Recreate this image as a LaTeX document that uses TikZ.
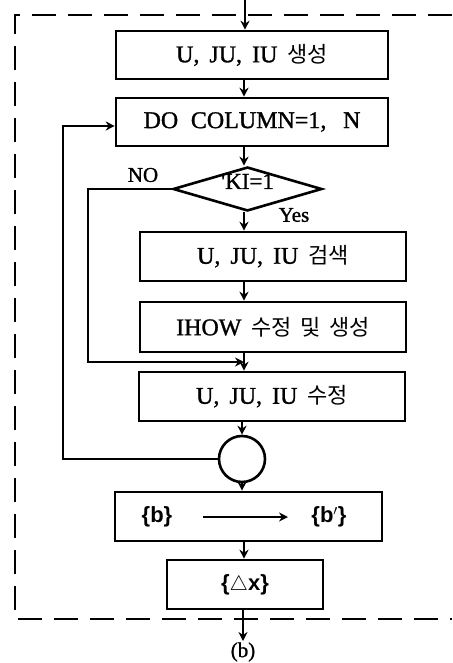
\documentclass[tikz,border=0pt]{standalone}
\usepackage{fontspec}
\setmainfont{Liberation Serif}[FakeBold=1.2]
\newfontfamily\kr{Noto Sans CJK KR}
\newfontfamily\sansf{Liberation Sans}
\usetikzlibrary{shapes.geometric,arrows.meta,calc}
\begin{document}
\begin{tikzpicture}[x=1pt,y=-1pt,
  line width=2.6pt,
  >={Stealth[length=9pt,width=9pt]},
  boxnode/.style={draw,rectangle,inner sep=0pt,font=\fontsize{24}{26}\selectfont},
  krf/.style={},
  lbl/.style={inner sep=0pt,font=\fontsize{21}{23}\selectfont},
  frame/.style={dash pattern=on 24pt off 12pt,line width=2.6pt}]
\useasboundingbox (0,0) rectangle (452,663);
% frame
\draw[frame] (452,15) -- (15,15) -- (15,619) -- (452,619);
% nodes
\node[boxnode,minimum width=272pt,minimum height=48pt] (b1) at (252,55) {U,\, JU,\, IU\, {\kr\fontsize{22}{24}\selectfont 생성}};
\node[boxnode,minimum width=272pt,minimum height=48pt] (b2) at (252,122) {DO\; COLUMN=1,\;\, N};
\node[draw,diamond,aspect=3.4,inner sep=0pt,minimum width=149pt,minimum height=44pt,font=\fontsize{23}{25}\selectfont] (d) at (247.5,189) {\raisebox{0pt}[0pt][0pt]{\textquotesingle KI=1}};
\node[boxnode,minimum width=266pt,minimum height=49pt] (b3) at (273,256.5) {U,\, JU,\, IU\, {\kr\fontsize{22}{24}\selectfont 검색}};
\node[boxnode,minimum width=266pt,minimum height=50pt] (b4) at (273,327) {IHOW\, {\kr\fontsize{22}{24}\selectfont 수정\, 및\, 생성}};
\node[boxnode,minimum width=266pt,minimum height=49pt] (b5) at (272,396.5) {U,\, JU,\, IU\, {\kr\fontsize{22}{24}\selectfont 수정}};
\node[draw,circle,minimum size=46pt,inner sep=0pt] (c) at (242,459) {};
\node[boxnode,minimum width=267pt,minimum height=49pt] (b6) at (248.5,516.5) {};
\node[inner sep=0pt,font=\sansf\bfseries\fontsize{22}{24}\selectfont] (bl) at (157,517) {\{b\}};
\node[inner sep=0pt,font=\sansf\bfseries\fontsize{22}{24}\selectfont] (br) at (329,517) {\{b$'$\}};
\node[boxnode,minimum width=156pt,minimum height=49pt,font=\sansf\bfseries\fontsize{22}{24}\selectfont] (b7) at (245,584.5) {\{$\triangle$x\}};
\node[lbl] (no) at (143,175) {NO};
\node[lbl] (yes) at (294,215) {Yes};
\node[inner sep=0pt,font=\fontsize{21}{23}\selectfont] (bb) at (243,652) {(b)};
% coordinates
\coordinate (top) at (245,0);
\coordinate (spine) at (244,0);
\coordinate (bot) at (243,641);
\coordinate (loopx) at (63,0);
\coordinate (nox) at (88,0);
\coordinate (join) at (244,362);
\coordinate (a1) at (203,517);
\coordinate (a2) at (288,517);
% connectors
\draw[->] (top) -- (b1.north -| top);
\draw[->] (b1.south -| spine) -- (b2.north -| spine);
\draw[->] (b2.south -| spine) -- (d.north -| spine);
\draw[->] (d.south -| spine) -- (b3.north -| spine);
\draw[->] (b3.south -| spine) -- (b4.north -| spine);
\draw[->] (b4.south -| spine) -- (b5.north -| spine);
\draw[->] (b5.south -| c) -- (c.north);
\draw[->] (c.south) -- (b6.north -| c);
\draw[->] (b6.south -| spine) -- (b7.north -| spine);
\draw[->] (b7.south -| bot) -- (bot);
\draw[->] (c.west) -- (c.west -| loopx) -- (loopx |- 0,126) -- (b2.west |- 0,126);
\draw[->] (d.west) -- (d.west -| nox) -- (nox |- join) -- (join);
\draw[->,line width=2.8pt] (a1) -- (a2);
\end{tikzpicture}
\end{document}
